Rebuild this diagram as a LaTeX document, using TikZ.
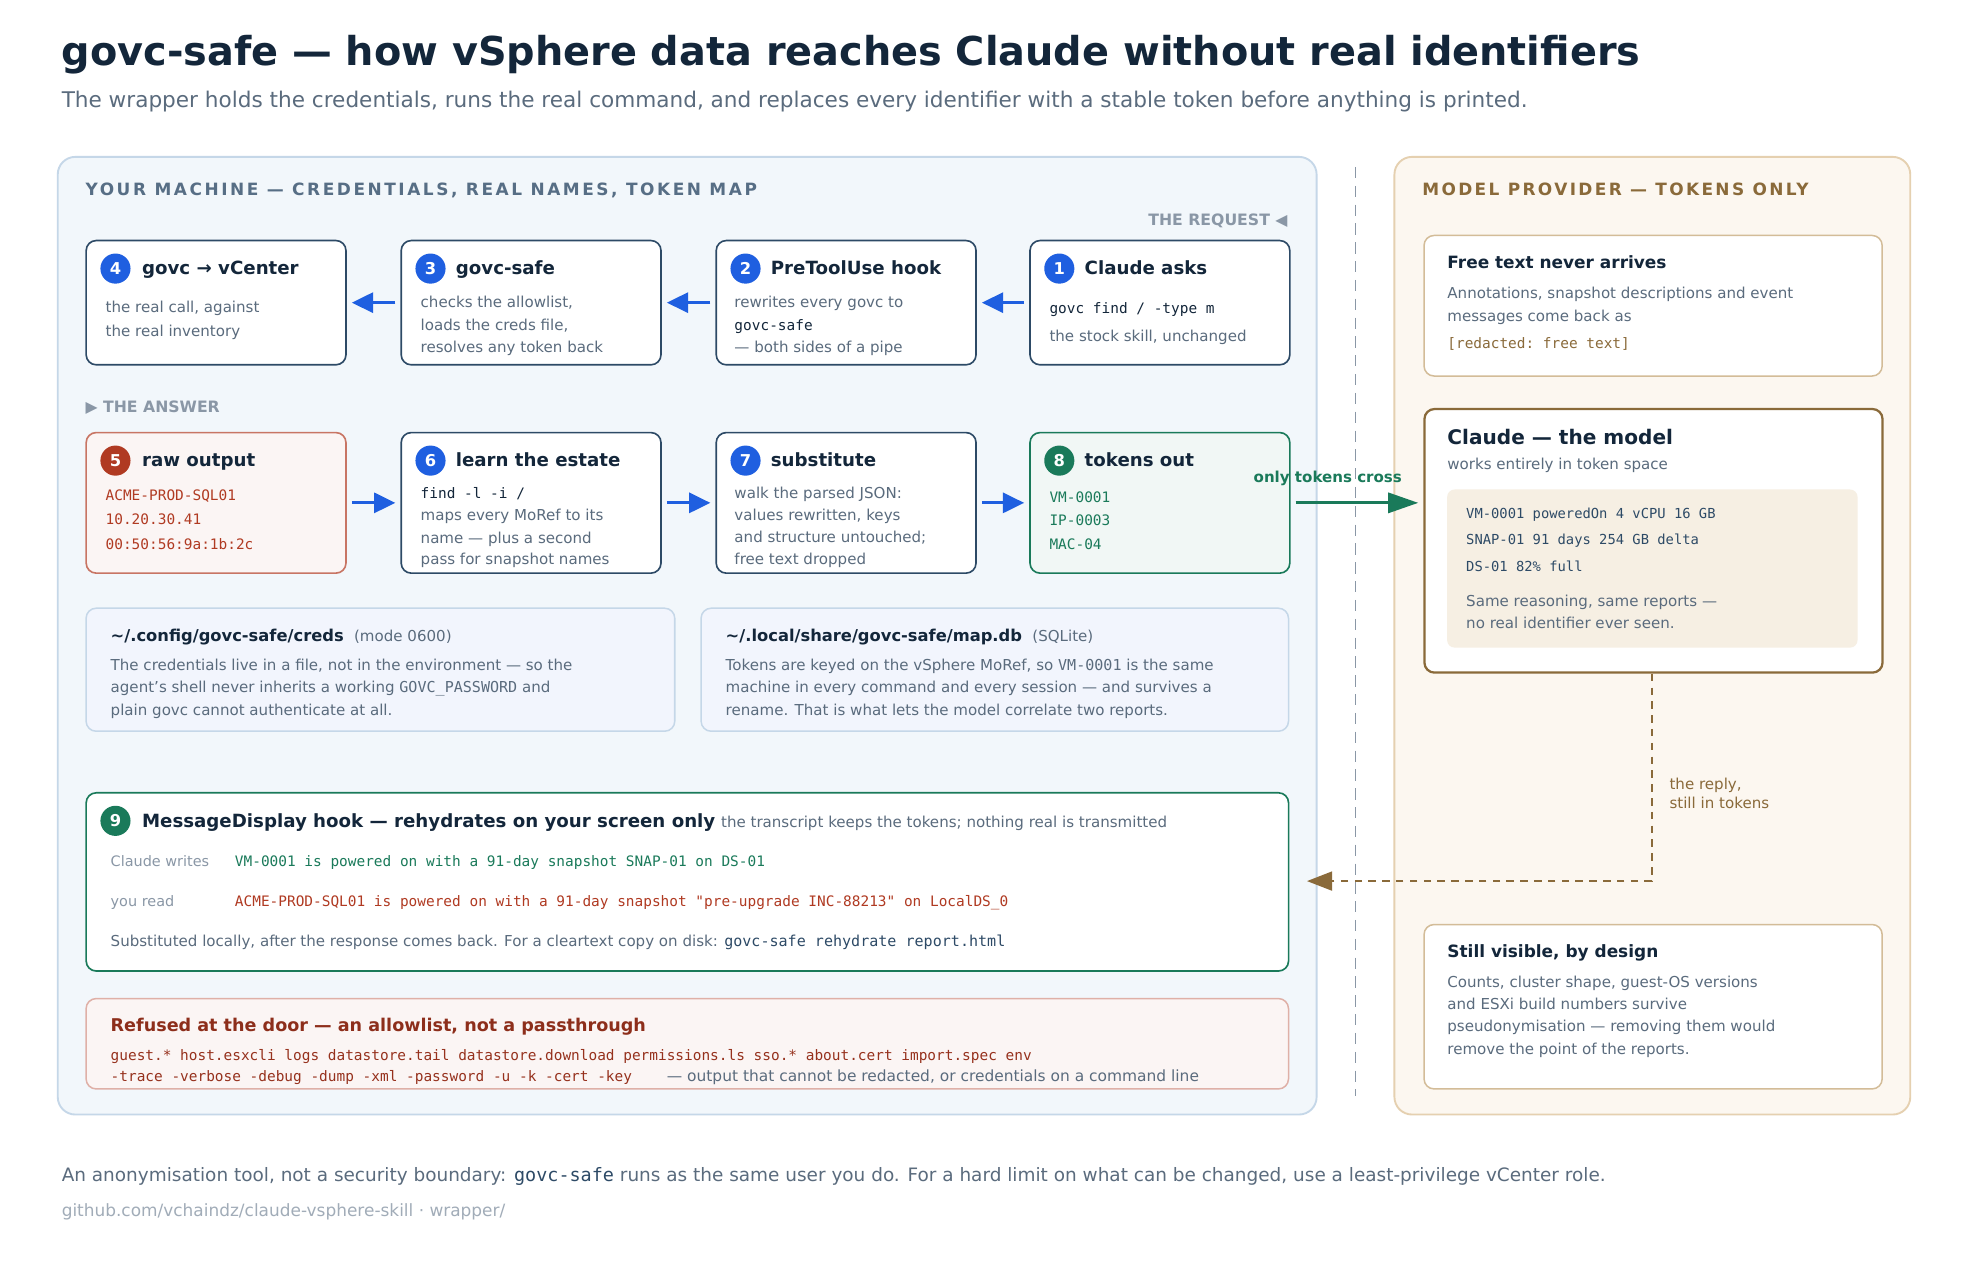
\documentclass[tikz,border=0pt]{standalone}
\usepackage{fontspec}
\setmainfont{DejaVu Sans}
\setmonofont{DejaVu Sans Mono}
\usetikzlibrary{arrows.meta,positioning}
\definecolor{ink}{HTML}{13263A}
\definecolor{mute}{HTML}{5A6B7D}
\definecolor{faint}{HTML}{8A97A6}
\definecolor{navy}{HTML}{2D4A66}
\definecolor{blu}{HTML}{1F5FE0}
\definecolor{rust}{HTML}{B03A22}
\definecolor{grn}{HTML}{1A7A5A}
\definecolor{brn}{HTML}{8A6A3A}
\definecolor{lpanel}{HTML}{F2F7FB}
\definecolor{lline}{HTML}{C5D7E8}
\definecolor{rpanel}{HTML}{FCF7F0}
\definecolor{rline}{HTML}{E5D0B0}
\newcommand{\fs}[1]{\fontsize{#1}{#1}\selectfont}
\tikzset{
  box/.style={draw=navy,line width=1.3pt,fill=white,rounded corners=8pt,anchor=north west,minimum width=207pt,inner sep=0pt},
  dot/.style={circle,fill=#1,text=white,minimum size=24pt,inner sep=0pt,font=\fs{13}\bfseries},
  ttl/.style={anchor=base west,inner sep=0pt,text=ink,font=\fs{14.5}\bfseries},
  txt/.style={anchor=base west,inner sep=0pt,text=mute,font=\fs{12}},
  mono/.style={anchor=base west,inner sep=0pt,font=\fs{11.5}\ttfamily},
  flow/.style={-{Triangle[length=17pt,width=16pt]},blu,line width=2.4pt,shorten >=4pt,shorten <=4pt},
}
\begin{document}
\begin{tikzpicture}[x=1pt,y=-1pt]
\useasboundingbox[fill=white] (0,0) rectangle (1568,1013.4);
% title
\node[anchor=base west,inner sep=0pt,text=ink,font=\fs{31.7}\bfseries] (title) at (49,52) {govc-safe — how vSphere data reaches Claude without real identifiers};
\node[anchor=base west,inner sep=0pt,text=mute,font=\fs{17.2}] (sub) at (49,86) {The wrapper holds the credentials, runs the real command, and replaces every identifier with a stable token before anything is printed.};

% panels
\draw[fill=lpanel,draw=lline,line width=1.5pt,rounded corners=14pt] (46,125) rectangle (1049,888);
\draw[fill=rpanel,draw=rline,line width=1.5pt,rounded corners=14pt] (1111,125) rectangle (1522,888);
\draw[faint,line width=1.5pt,dash pattern=on 9pt off 6pt] (1080,133) -- (1080,873);
\node[anchor=base west,inner sep=0pt,text=navy!80,font=\fs{13.5}\bfseries\addfontfeature{LetterSpace=15}] (lhead) at (68,156) {YOUR MACHINE — CREDENTIALS, REAL NAMES, TOKEN MAP};
\node[anchor=base west,inner sep=0pt,text=brn,font=\fs{13.5}\bfseries\addfontfeature{LetterSpace=14}] (rhead) at (1133,156) {MODEL PROVIDER — TOKENS ONLY};
\node[anchor=base east,inner sep=0pt,text=faint,font=\fs{12.5}\bfseries] (req) at (1026,180) {THE REQUEST ◀};
\node[anchor=base west,inner sep=0pt,text=faint,font=\fs{12.5}\bfseries] (ans) at (68,329) {▶ THE ANSWER};

% the request row
\node[box,minimum height=99pt] (b4) at (68,191) {};
\node[box,minimum height=99pt] (b3) at (319,191) {};
\node[box,minimum height=99pt] (b2) at (570,191) {};
\node[box,minimum height=99pt] (b1) at (820,191) {};
\node[dot=blu] (d4) at (92,214) {4};
\node[dot=blu] (d3) at (343,214) {3};
\node[dot=blu] (d2) at (594,214) {2};
\node[dot=blu] (d1) at (844,214) {1};
\node[ttl] at (113,219) {govc → vCenter};
\node[ttl] at (363,219) {govc-safe};
\node[ttl] at (614,219) {PreToolUse hook};
\node[ttl] at (864,219) {Claude asks};
\node[txt] at (84,249) {the real call, against};
\node[txt] at (84,268) {the real inventory};
\node[txt] at (335,245) {checks the allowlist,};
\node[txt] at (335,263) {loads the creds file,};
\node[txt] at (335,281) {resolves any token back};
\node[txt] at (585,245) {rewrites every govc to};
\node[mono,text=ink] at (585,263) {govc-safe};
\node[txt] at (585,281) {— both sides of a pipe};
\node[mono,text=ink] at (836,250) {govc find / -type m};
\node[txt] at (836,272) {the stock skill, unchanged};
\draw[flow] (b3.west) -- (b4.east);
\draw[flow] (b2.west) -- (b3.east);
\draw[flow] (b1.west) -- (b2.east);

% the answer row
\node[box,minimum height=112pt,fill=rust!5,draw=rust!70] (b5) at (68,344) {};
\node[box,minimum height=112pt] (b6) at (319,344) {};
\node[box,minimum height=112pt] (b7) at (570,344) {};
\node[box,minimum height=112pt,fill=grn!6,draw=grn] (b8) at (820,344) {};
\node[dot=rust] (d5) at (92,367) {5};
\node[dot=blu] (d6) at (343,367) {6};
\node[dot=blu] (d7) at (594,367) {7};
\node[dot=grn] (d8) at (844,367) {8};
\node[ttl] at (113,372) {raw output};
\node[ttl] at (363,372) {learn the estate};
\node[ttl] at (614,372) {substitute};
\node[ttl] at (864,372) {tokens out};
\node[mono,text=rust] at (84,399) {ACME-PROD-SQL01};
\node[mono,text=rust] at (84,418) {10.20.30.41};
\node[mono,text=rust] at (84,438) {00:50:56:9a:1b:2c};
\node[mono,text=ink] at (335,397) {find -l -i /};
\node[txt] at (335,415) {maps every MoRef to its};
\node[txt] at (335,433) {name — plus a second};
\node[txt] at (335,450) {pass for snapshot names};
\node[txt] at (585,397) {walk the parsed JSON:};
\node[txt] at (585,415) {values rewritten, keys};
\node[txt] at (585,432) {and structure untouched;};
\node[txt] at (585,450) {free text dropped};
\node[mono,text=grn] at (836,400) {VM-0001};
\node[mono,text=grn] at (836,419) {IP-0003};
\node[mono,text=grn] at (836,438) {MAC-04};
\draw[flow] (b5.east) -- (b6.west);
\draw[flow] (b6.east) -- (b7.west);
\draw[flow] (b7.east) -- (b8.west);

% stores
\node[box,minimum width=469pt,minimum height=98pt,fill=blu!6,draw=lline,line width=1.2pt] (creds) at (68,484) {};
\node[box,minimum width=468pt,minimum height=98pt,fill=blu!6,draw=lline,line width=1.2pt] (mapdb) at (558,484) {};
\node[anchor=base west,inner sep=0pt,font=\fs{13}] at (88,511) {\textcolor{ink}{\bfseries \textasciitilde/.config/govc-safe/creds}\ \ \textcolor{mute}{\fs{12}(mode 0600)}};
\node[anchor=base west,inner sep=0pt,font=\fs{13}] at (578,511) {\textcolor{ink}{\bfseries \textasciitilde/.local/share/govc-safe/map.db}\ \ \textcolor{mute}{\fs{12}(SQLite)}};
\node[txt] at (88,534) {The credentials live in a file, not in the environment — so the};
\node[txt] at (88,552) {agent's shell never inherits a working \texttt{GOVC\_PASSWORD} and};
\node[txt] at (88,570) {plain govc cannot authenticate at all.};
\node[txt] at (578,534) {Tokens are keyed on the vSphere MoRef, so \texttt{VM-0001} is the same};
\node[txt] at (578,552) {machine in every command and every session — and survives a};
\node[txt] at (578,570) {rename. That is what lets the model correlate two reports.};

% rehydrate
\node[box,minimum width=958pt,minimum height=142pt,draw=grn] (b9) at (68,631) {};
\node[dot=grn] (d9) at (92,654) {9};
\node[anchor=base west,inner sep=0pt,font=\fs{14.5}] at (113,659) {\textcolor{ink}{\bfseries MessageDisplay hook — rehydrates on your screen only}\ \textcolor{mute}{\fs{12}the transcript keeps the tokens; nothing real is transmitted}};
\node[txt,text=faint,font=\fs{11.5}] at (88,690) {Claude writes};
\node[mono,text=grn] at (187,690) {VM-0001 is powered on with a 91-day snapshot SNAP-01 on DS-01};
\node[txt,text=faint,font=\fs{11.5}] at (88,722) {you read};
\node[mono,text=rust] at (187,722) {ACME-PROD-SQL01 is powered on with a 91-day snapshot "pre-upgrade INC-88213" on LocalDS\_0};
\node[txt] at (88,754) {Substituted locally, after the response comes back. For a cleartext copy on disk: \textcolor{navy}{\texttt{govc-safe rehydrate report.html}}};

% refused
\node[box,minimum width=958pt,minimum height=72pt,fill=rust!5,draw=rust!40,line width=1.2pt] (deny) at (68,795) {};
\node[ttl,text=rust!80!black,font=\fs{14}\bfseries] at (88,822) {Refused at the door — an allowlist, not a passthrough};
\node[mono,text=rust!85!black] at (88,845) {guest.* host.esxcli logs datastore.tail datastore.download permissions.ls sso.* about.cert import.spec env};
\node[mono,text=rust!85!black] at (88,862) {-trace -verbose -debug -dump -xml -password -u -k -cert -key\ \ \ \ \textcolor{mute}{\rmfamily\fs{12.3}— output that cannot be redacted, or credentials on a command line}};

% model provider side
\node[box,minimum width=365pt,minimum height=112pt,draw=rline!80!brn,line width=1.2pt] (free) at (1134,187) {};
\node[ttl,font=\fs{13.5}\bfseries] at (1153,214) {Free text never arrives};
\node[txt] at (1153,238) {Annotations, snapshot descriptions and event};
\node[txt] at (1153,256) {messages come back as};
\node[mono,text=brn] at (1153,278) {[redacted: free text]};

\node[box,minimum width=365pt,minimum height=210pt,draw=brn,line width=1.8pt] (claude) at (1134,325) {};
\node[ttl,font=\fs{16}\bfseries] at (1153,354) {Claude — the model};
\node[txt] at (1153,374) {works entirely in token space};
\draw[fill=rline!35,draw=none,rounded corners=6pt] (1153,390) rectangle (1480,516);
\node[mono,text=navy,font=\fs{11}\ttfamily] at (1168,413) {VM-0001 poweredOn 4 vCPU 16 GB};
\node[mono,text=navy,font=\fs{11}\ttfamily] at (1168,434) {SNAP-01 91 days 254 GB delta};
\node[mono,text=navy,font=\fs{11}\ttfamily] at (1168,455) {DS-01 82\% full};
\node[txt] at (1168,483) {Same reasoning, same reports —};
\node[txt] at (1168,501) {no real identifier ever seen.};

\node[box,minimum width=365pt,minimum height=131pt,draw=rline!80!brn,line width=1.2pt] (still) at (1134,736) {};
\node[ttl,font=\fs{13.5}\bfseries] at (1153,763) {Still visible, by design};
\node[txt] at (1153,787) {Counts, cluster shape, guest-OS versions};
\node[txt] at (1153,804) {and ESXi build numbers survive};
\node[txt] at (1153,822) {pseudonymisation — removing them would};
\node[txt] at (1153,840) {remove the point of the reports.};

% crossing
\draw[-{Triangle[length=24pt,width=16pt]},grn,line width=2.4pt,shorten <=4pt,shorten >=4pt] (b8.east) -- (b8.east -| claude.west) node[pos=0.28,above=9pt,font=\fs{12}\bfseries,text=grn] {only tokens cross};
\coordinate (bend) at (1316,702);
\draw[-{Triangle[length=20pt,width=15pt]},brn,line width=1.8pt,dash pattern=on 6pt off 5pt,shorten >=14pt] (claude.south -| bend) -- (bend) -- (bend -| b9.east);
\node[txt,text=brn,align=left,anchor=north west] at (1330,620) {the reply,\\[3pt]still in tokens};

% footer
\node[anchor=base west,inner sep=0pt,text=mute,font=\fs{14.7}] (foot) at (49,941) {An anonymisation tool, not a security boundary: \textcolor{navy}{\texttt{govc-safe}} runs as the same user you do. For a hard limit on what can be changed, use a least-privilege vCenter role.};
\node[anchor=base west,inner sep=0pt,text=faint!80,font=\fs{13.5}] (link) at (49,969) {github.com/vchaindz/claude-vsphere-skill · wrapper/};
\end{tikzpicture}
\end{document}
